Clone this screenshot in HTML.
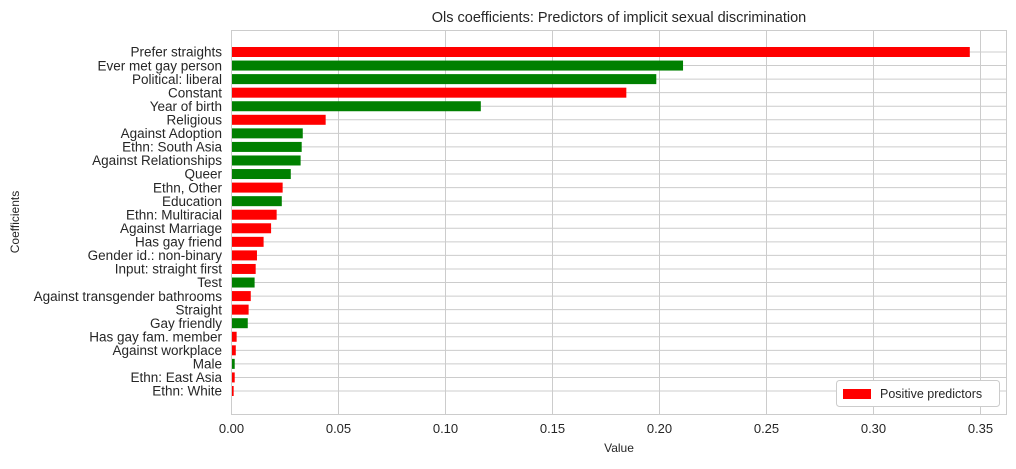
<!DOCTYPE html>
<html><head><meta charset="utf-8"><style>
body{margin:0;background:#fff;font-family:"Liberation Sans",sans-serif;}
svg text{font-family:"Liberation Sans",sans-serif;fill:#262626;}
</style></head><body>
<svg id="chart" width="1016" height="464" xmlns="http://www.w3.org/2000/svg">
<text x="619" y="22" font-size="14.5" text-anchor="middle">Ols coefficients: Predictors of implicit sexual discrimination</text>
<text x="19" y="222" font-size="12" text-anchor="middle" transform="rotate(-90 19 222)">Coefficients</text>
<text x="619" y="452" font-size="12" text-anchor="middle">Value</text>
<g id="grid"></g><g id="bars"></g><g id="labels"></g>
<rect x="231.5" y="30.5" width="775" height="384" fill="none" stroke="#ccc" stroke-width="1"/>
<g>
<rect x="836.5" y="380.5" width="163" height="26" rx="3" fill="#fff" stroke="#ccc"/>
<rect x="843" y="389" width="28" height="10" fill="#ff0000"/>
<text x="880" y="398" font-size="12.5">Positive predictors</text>
</g>
</svg>
<script>
const categories=["Prefer straights","Ever met gay person","Political: liberal","Constant","Year of birth","Religious","Against Adoption","Ethn: South Asia","Against Relationships","Queer","Ethn, Other","Education","Ethn: Multiracial","Against Marriage","Has gay friend","Gender id.: non-binary","Input: straight first","Test","Against transgender bathrooms","Straight","Gay friendly","Has gay fam. member","Against workplace","Male","Ethn: East Asia","Ethn: White"];
const values=[0.345,0.211,0.1985,0.1845,0.1165,0.044,0.0333,0.0328,0.0323,0.0277,0.0239,0.0235,0.0211,0.0185,0.015,0.0119,0.0113,0.0108,0.009,0.008,0.0076,0.0024,0.002,0.0015,0.0015,0.001];
const positive=[1,0,0,1,0,1,0,0,0,0,1,0,1,1,1,1,1,0,1,1,0,1,1,0,1,1];
const xTicks=[0,0.05,0.1,0.15,0.2,0.25,0.3,0.35];
const tickLabels=["0.00","0.05","0.10","0.15","0.20","0.25","0.30","0.35"];
const NS="http://www.w3.org/2000/svg";
const x=v=>231.5+v*2140;
const y=i=>52+i*13.56;
function mk(t,a,p){const e=document.createElementNS(NS,t);for(const k in a)e.setAttribute(k,a[k]);p.appendChild(e);return e;}
const grid=document.getElementById('grid'),bars=document.getElementById('bars'),labels=document.getElementById('labels');
xTicks.forEach((t,i)=>{
 const l=mk('line',{x1:x(t),x2:x(t),y1:30.5,y2:414.5,stroke:'#ccc'},grid);
 
 
 const tx=mk('text',{x:x(t),y:433,'font-size':13,'text-anchor':'middle'},labels);
 tx.textContent=tickLabels[i];
 
 
});
categories.forEach((c,i)=>{
 const g=mk('line',{x1:231.5,x2:1006.5,y1:y(i),y2:y(i),stroke:'#ccc'},grid);
 
 
 const r=mk('rect',{x:x(0),y:y(i)-5,width:x(values[i])-x(0),height:10,fill:positive[i]?'#ff0000':'#008000'},bars);
 
 
 const t=mk('text',{x:222,y:y(i)+4.7,'font-size':13.5,'text-anchor':'end'},labels);
 t.textContent=c;
 
 
});
</script>
</body></html>
